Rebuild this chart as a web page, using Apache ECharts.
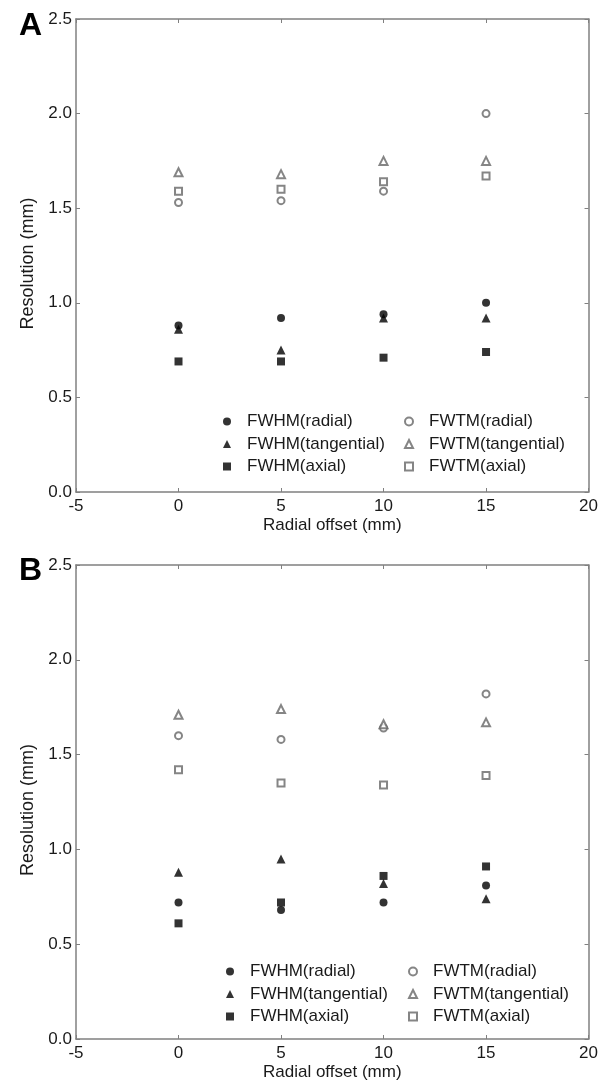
<!DOCTYPE html>
<html>
<head>
<meta charset="utf-8">
<script src="https://cdn.jsdelivr.net/npm/echarts@6/dist/echarts.min.js"></script>
<style>
  html, body { margin: 0; padding: 0; background: #fff; }
  #chart { width: 601px; height: 1086px; }
</style>
</head>
<body>
<div id="chart"></div>
<script>
// radial offsets (mm)
const offsets = [0, 5, 10, 15];

// panel A
const aFwhmRadial = [0.88, 0.92, 0.94, 1.00];
const aFwhmTangential = [0.86, 0.75, 0.92, 0.92];
const aFwhmAxial = [0.69, 0.69, 0.71, 0.74];
const aFwtmRadial = [1.53, 1.54, 1.59, 2.00];
const aFwtmTangential = [1.69, 1.68, 1.75, 1.75];
const aFwtmAxial = [1.59, 1.60, 1.64, 1.67];

// panel B
const bFwhmRadial = [0.72, 0.68, 0.72, 0.81];
const bFwhmTangential = [0.88, 0.95, 0.82, 0.74];
const bFwhmAxial = [0.61, 0.72, 0.86, 0.91];
const bFwtmRadial = [1.60, 1.58, 1.64, 1.82];
const bFwtmTangential = [1.71, 1.74, 1.66, 1.67];
const bFwtmAxial = [1.42, 1.35, 1.34, 1.39];

const seriesNames = ["FWHM(radial)", "FWHM(tangential)", "FWHM(axial)",
  "FWTM(radial)", "FWTM(tangential)", "FWTM(axial)"];
const symbols = ["circle", "triangle", "rect", "emptyCircle", "emptyTriangle", "emptyRect"];
const sizes = [8, 9, 8, 7, 8, 7];

const axisGray = "#808080";
const textColor = "#1a1a1a";
const fontFamily = "Liberation Sans, Arial, sans-serif";

const grids = [
  { left: 76, top: 19, width: 513, height: 473 },
  { left: 76, top: 565, width: 513, height: 474 }
];

// legend placement per panel: [col1 left, col2 left, top]
const legendPos = [[218, 399, 408], [221, 403, 958]];

function toPairs(vals) {
  return vals.map((v, i) => [offsets[i], v]);
}

const panels = [
  [aFwhmRadial, aFwhmTangential, aFwhmAxial, aFwtmRadial, aFwtmTangential, aFwtmAxial],
  [bFwhmRadial, bFwhmTangential, bFwhmAxial, bFwtmRadial, bFwtmTangential, bFwtmAxial]
];

const xAxis = [];
const yAxis = [];
const series = [];
const legend = [];

panels.forEach((panel, p) => {
  // bottom x axis with labels
  xAxis.push({
    type: "value", gridIndex: p, min: -5, max: 20, interval: 5,
    name: "Radial offset (mm)", nameLocation: "middle", nameGap: 25,
    nameTextStyle: { fontSize: 17, color: textColor, fontFamily: fontFamily },
    axisLine: { onZero: false, lineStyle: { color: axisGray, width: 1.5 } },
    axisTick: { inside: true, length: 4, lineStyle: { color: axisGray } },
    axisLabel: { fontSize: 17, color: textColor, margin: 6, fontFamily: fontFamily },
    splitLine: { show: false }
  });
  // top mirror axis
  xAxis.push({
    type: "value", gridIndex: p, min: -5, max: 20, interval: 5, position: "top",
    axisLine: { onZero: false, lineStyle: { color: axisGray, width: 1.5 } },
    axisTick: { inside: true, length: 4, lineStyle: { color: axisGray } },
    axisLabel: { show: false },
    splitLine: { show: false }
  });
  // left y axis with labels
  yAxis.push({
    type: "value", gridIndex: p, min: 0, max: 2.5, interval: 0.5,
    name: "Resolution (mm)", nameLocation: "middle", nameGap: 30,
    nameTextStyle: { fontSize: 18, color: textColor, fontFamily: fontFamily, padding: [0, 16, 0, 0] },
    axisLine: { show: true, onZero: false, lineStyle: { color: axisGray, width: 1.5 } },
    axisTick: { show: true, inside: true, length: 4, lineStyle: { color: axisGray } },
    axisLabel: { fontSize: 17, color: textColor, margin: 4, fontFamily: fontFamily,
      formatter: v => v.toFixed(1) },
    splitLine: { show: false }
  });
  // right mirror axis
  yAxis.push({
    type: "value", gridIndex: p, min: 0, max: 2.5, interval: 0.5, position: "right",
    axisLine: { show: true, onZero: false, lineStyle: { color: axisGray, width: 1.5 } },
    axisTick: { show: true, inside: true, length: 4, lineStyle: { color: axisGray } },
    axisLabel: { show: false },
    splitLine: { show: false }
  });

  panel.forEach((vals, k) => {
    const filled = k < 3;
    series.push({
      name: seriesNames[k],
      type: "scatter",
      xAxisIndex: p * 2,
      yAxisIndex: p * 2,
      symbol: symbols[k],
      symbolSize: sizes[k],
      itemStyle: filled
        ? { color: "#000" }
        : { color: "#666", borderColor: "#666", borderWidth: 1.2 },
      data: toPairs(vals)
    });
  });

  const pos = legendPos[p];
  const legendStyle = {
    orient: "vertical", itemGap: 5.5, itemWidth: 8, itemHeight: 8,
    formatter: name => "{g|}" + name,
    textStyle: { fontSize: 17, color: textColor, fontFamily: fontFamily,
      rich: { g: { width: 11 } } },
    selectedMode: false, top: pos[2]
  };
  legend.push(Object.assign({}, legendStyle, { left: pos[0], data: seriesNames.slice(0, 3).map(n => ({ name: n })) }));
  legend.push(Object.assign({}, legendStyle, { left: pos[1], data: seriesNames.slice(3).map(n => ({ name: n })) }));
});

const chart = echarts.init(document.getElementById("chart"));
chart.setOption({
  animation: false,
  backgroundColor: "#fff",
  title: [
    { text: "A", left: 14, top: 5, textStyle: { fontSize: 32, fontWeight: "bold", color: "#000", fontFamily: fontFamily } },
    { text: "B", left: 14, top: 550, textStyle: { fontSize: 32, fontWeight: "bold", color: "#000", fontFamily: fontFamily } }
  ],
  grid: grids,
  legend: legend,
  xAxis: xAxis,
  yAxis: yAxis,
  series: series
});
</script>
</body>
</html>
